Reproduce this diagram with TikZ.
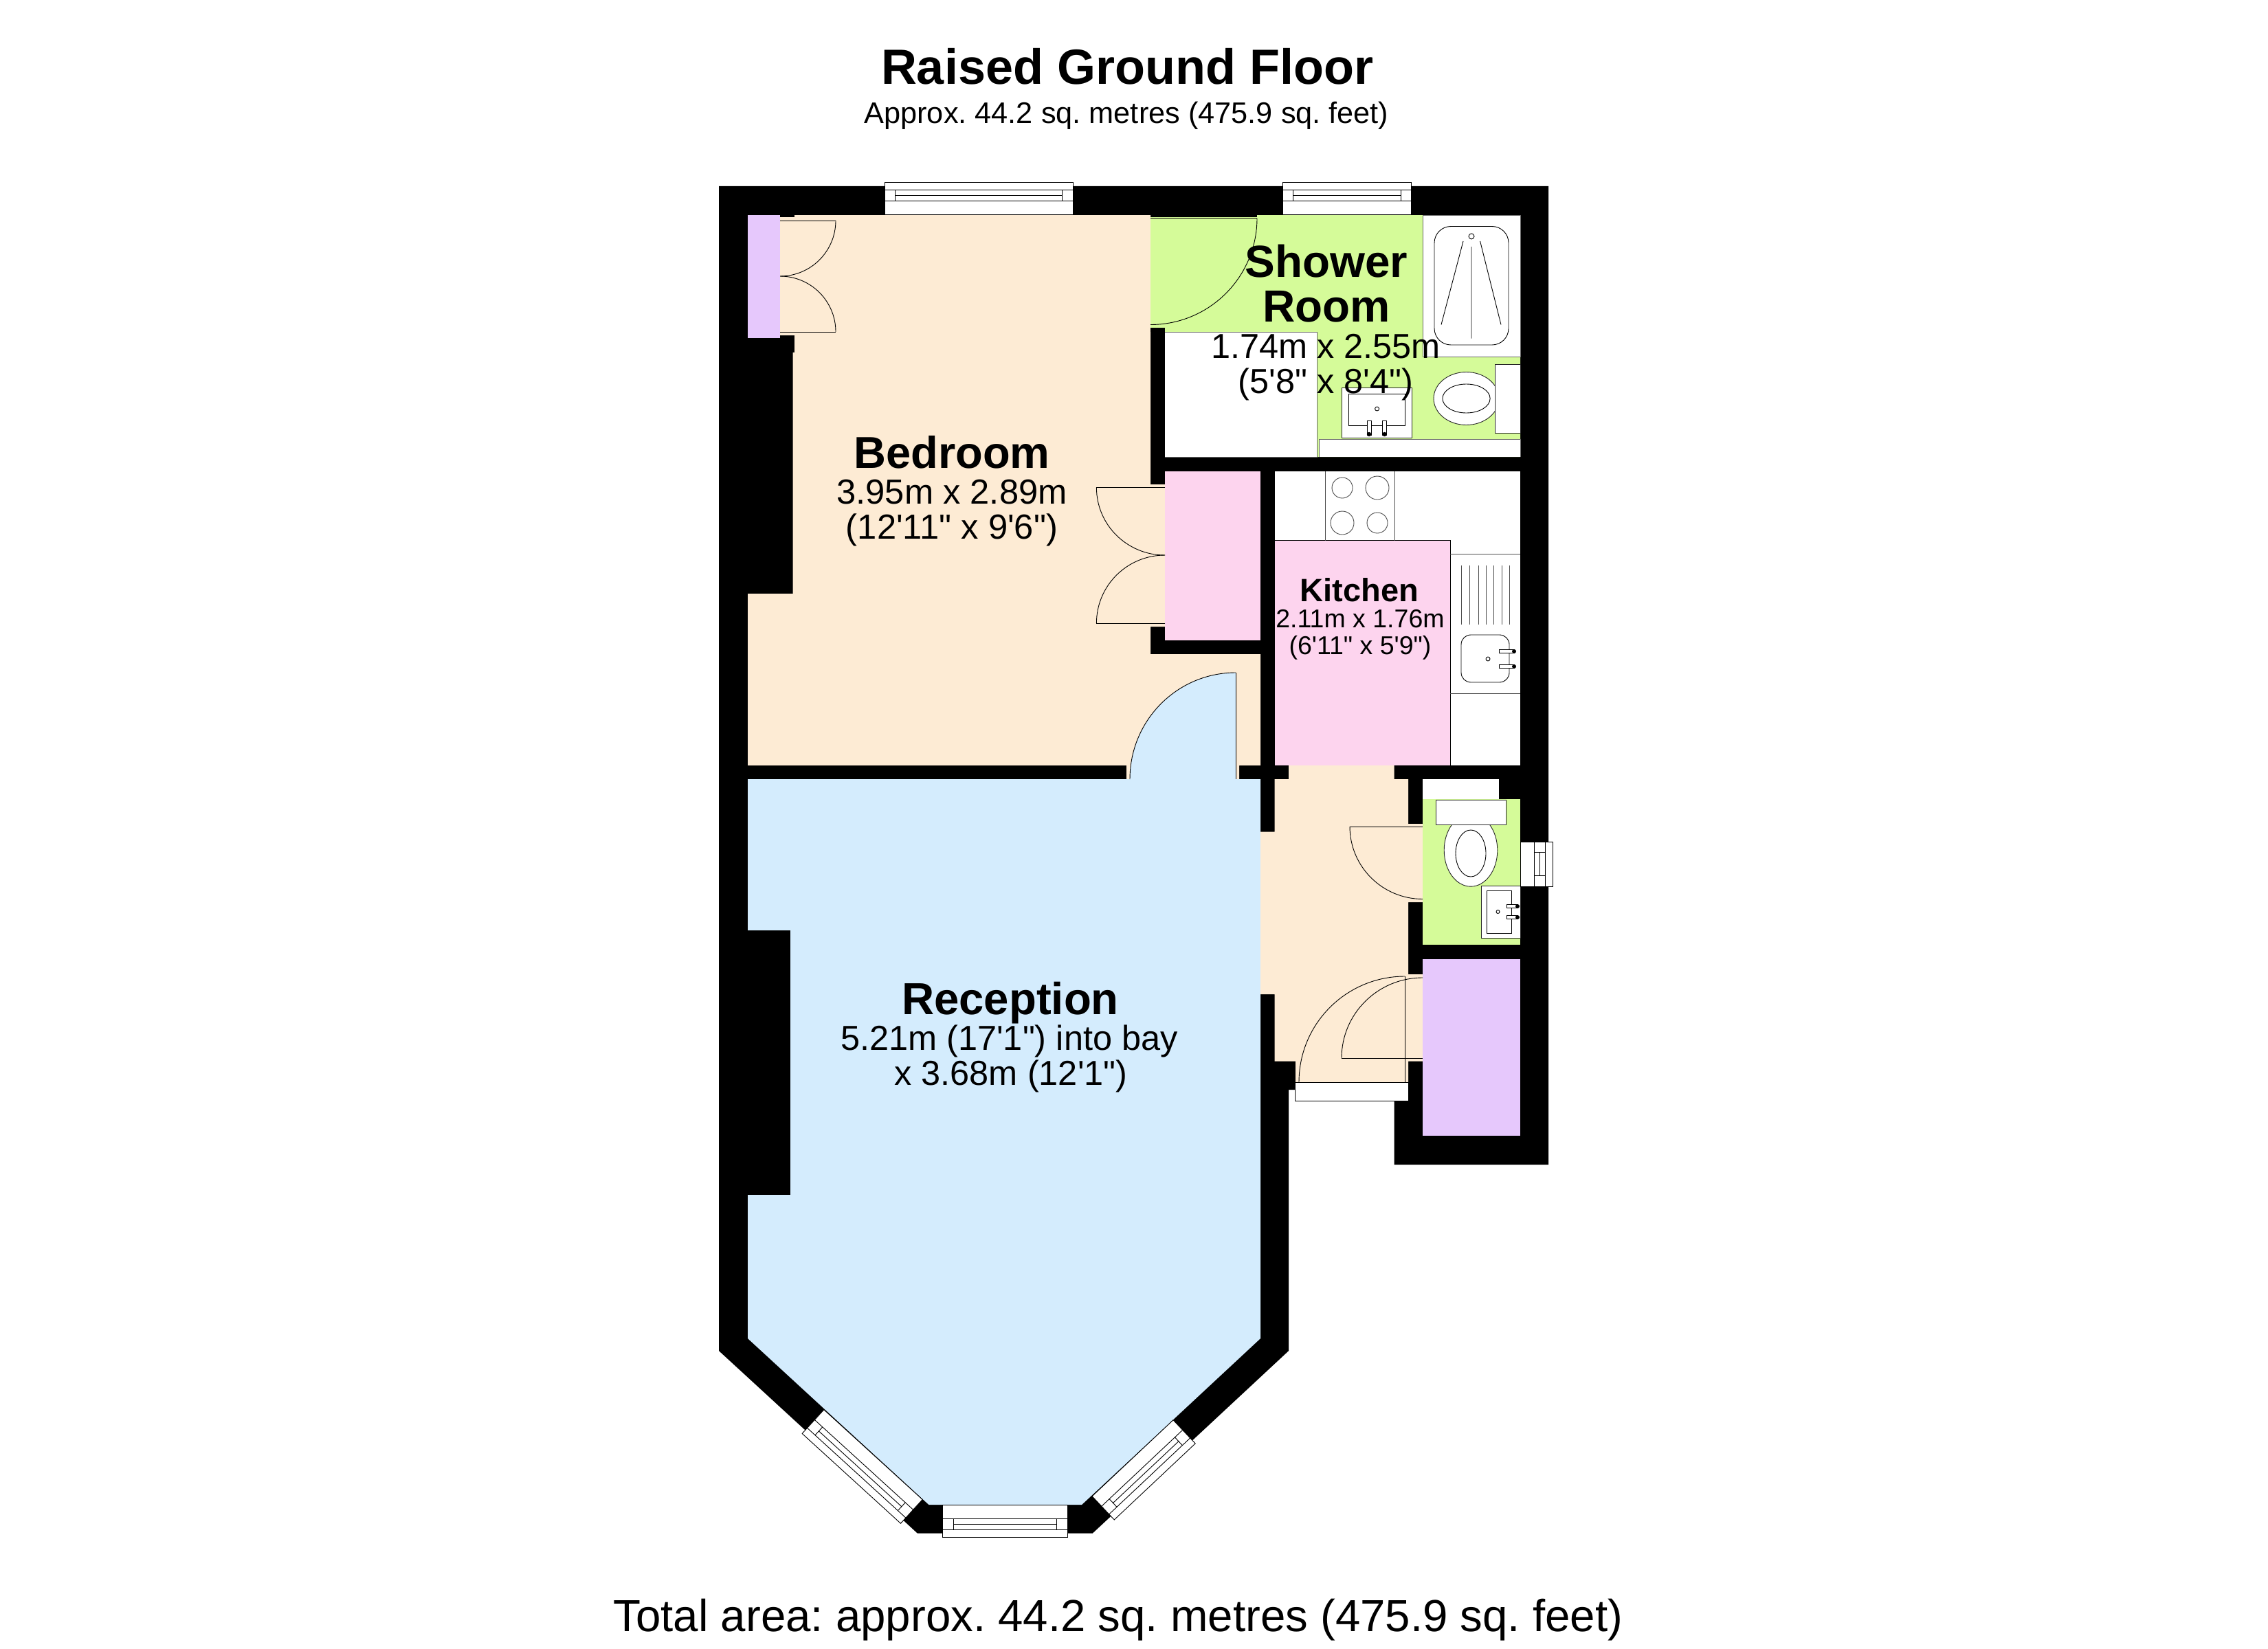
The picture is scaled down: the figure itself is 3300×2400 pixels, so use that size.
\documentclass[tikz,border=0pt]{standalone}
\usepackage{fontspec}
\usetikzlibrary{calc}
\newfontfamily\lsans{Liberation Sans}
\frenchspacing
\definecolor{beigeroom}{RGB}{253,235,212}
\definecolor{blueroom}{RGB}{212,236,253}
\definecolor{greenroom}{RGB}{213,251,153}
\definecolor{pinkroom}{RGB}{253,212,238}
\definecolor{purpleroom}{RGB}{230,200,252}
\tikzset{
  fine/.style={draw=black,line width=0.9pt},
  fixture/.style={draw=black!85,line width=0.9pt,fill=white},
  txt/.style={inner sep=0pt,anchor=base,font=\lsans},
}
\newcommand\qarc[3]{\draw[fine] (#1) .. controls ($(#1)!0.5523!(#2)$) and ($(#3)!0.5523!(#2)$) .. (#3);}
% window in local coordinates: x along the wall, y outward
\newcommand\glazing[1]{%
  \fill[white] (0,0) -- (#1,0) -- (#1,47) -- (0,47) -- cycle;
  \draw[fine] (0,0) -- (#1,0) -- (#1,47) -- (0,47) -- cycle;
  \draw[fine] (0,20) -- (#1,20) (0,36) -- (#1,36);
  \draw[fine] (15.5,20) -- (15.5,36) (#1-15.5,20) -- (#1-15.5,36) (15.5,28) -- (#1-15.5,28);
}
\newcommand\tapv[2]{% vertical tap, end pointing down
  \draw[fine,fill=white] (#1-3,#2) rectangle (#1+3,#2+21);
  \fill[black] (#1,#2+20) circle[radius=3.2pt];}
\newcommand\taph[3]{% horizontal tap
  \draw[fine,fill=white] (#1,#3-2.5) rectangle (#2,#3+2.5);
  \fill[black] (#2,#3) circle[radius=3pt];}
\begin{document}
\begin{tikzpicture}[x=1pt,y=-1pt]
\useasboundingbox (0,0) rectangle (3300,2400);
\fill[white] (0,0) rectangle (3300,2400);

% masonry
\fill[black] (1046,271) -- (2253,271) -- (2253,1695) -- (2028.6,1695) -- (2028.6,1602) -- (1885,1602) -- (1885,1586) -- (1875,1586) -- (1875,1966) -- (1589.6,2231.7) -- (1335,2231.7) -- (1046,1966) -- cycle;

% bedroom
\fill[beigeroom] (1135,316) -- (1156,316) -- (1156,313) -- (1674,313) -- (1674,705) -- (1695,705) -- (1695,912) -- (1674,912) -- (1674,952) -- (1834,952) -- (1834,1114) -- (1803,1114) -- (1803,1134) -- (1639,1134) -- (1639,1114) -- (1088,1114) -- (1088,864) -- (1153.6,864) -- (1153.6,513) -- (1156,513) -- (1156,488) -- (1135,488) -- cycle;
\fill[purpleroom] (1088,313) rectangle (1135,492);
\fill[pinkroom] (1695,685.5) rectangle (1834,932);

% reception
\fill[blueroom] (1088,1134) -- (1834,1134) -- (1834,1948) -- (1574,2190) -- (1351.4,2190) -- (1198.8,2050) -- (1088,1948) -- (1088,1739) -- (1150,1739) -- (1150,1354) -- (1088,1354) -- cycle;
\fill[blueroom] (1644,1134) .. controls (1644,1049) and (1713,979) .. (1798,979) -- (1798,1134) -- cycle;

% shower room
\fill[greenroom] (1674,316) -- (1829,316) -- (1829,313) -- (2212,313) -- (2212,665) -- (1916,665) -- (1916,483) -- (1695,483) -- (1695,477) -- (1674,477) -- cycle;
\draw[fine,fill=white,draw=black!60] (1695,483) -- (1916,483) -- (1916,665) -- (1695,665);
\fill[black] (1674,477) rectangle (1695,483);
\draw[fill=white,draw=black!60,line width=0.9pt] (2070,313) -- (2070,519.6) -- (2212,519.6) -- (2212,313) -- cycle;
\draw[fill=white,draw=black!60,line width=0.9pt] (1919,665) -- (1919,639) -- (2212,639) -- (2212,665);
\draw[fine,rounded corners=24pt] (2087,329.5) rectangle (2195,502);
\draw[fine] (2141,344) circle[radius=4pt];
\draw[fine] (2129,351) -- (2097,472.5) (2153.6,351) -- (2184,472.5) (2141,359) -- (2141,492.6);
\draw[fixture] (2133.5,580) ellipse[x radius=47.5pt,y radius=38.5pt];
\draw[fine] (2133.5,580) ellipse[x radius=34.6pt,y radius=21pt];
\draw[fixture] (2175,530) rectangle (2212,630);
\draw[fixture] (1952.7,564) rectangle (2054,637);
\draw[fine] (1962.5,573.5) rectangle (2044,619.5);
\draw[fine] (2003.6,595) circle[radius=3pt];
\tapv{1992}{612}
\tapv{2014.5}{612}

% kitchen
\fill[white] (1854.5,685.5) rectangle (2212,1114);
\fill[pinkroom] (1854.5,786.5) rectangle (2110,1114);
\draw[fine] (1854.5,786.5) -- (2110,786.5) -- (2110,1114);
\draw[fine,draw=black!70] (1928,685.5) -- (1928,786.5) (2029.5,685.5) -- (2029.5,786.5);
\draw[fine,draw=black!70] (1953,710) circle[radius=15pt] (2004,710) circle[radius=17pt] (1953,761) circle[radius=17pt] (2004,761) circle[radius=15pt];
\draw[fine,draw=black!70] (2110,806.6) -- (2212,806.6) (2110,1009) -- (2212,1009);
\foreach \gx in {2126,2138.4,2151,2162.5,2173.7,2185,2196}{\draw[fine,draw=black!70] (\gx,823) -- (\gx,909);}
\draw[fine,rounded corners=14pt] (2126,924) rectangle (2196,993);
\draw[fine] (2165,959) circle[radius=3pt];
\taph{2181}{2203}{948}
\taph{2181}{2203}{970}

% hall
\fill[beigeroom] (1875,1114) -- (2028.6,1114) -- (2028.6,1134) -- (2049,1134) -- (2049,1199) -- (2070,1199) -- (2070,1313) -- (2049,1313) -- (2049,1418) -- (2070,1418) -- (2070,1544.6) -- (2049,1544.6) -- (2049,1575) -- (1885,1575) -- (1885,1544.6) -- (1854.5,1544.6) -- (1854.5,1447) -- (1834,1447) -- (1834,1210.7) -- (1854.5,1210.7) -- (1854.5,1134) -- (1875,1134) -- cycle;
\draw[fine,fill=white] (1884,1575) rectangle (2049,1602);

% WC
\fill[white] (2070,1134) rectangle (2181,1162.5);
\fill[greenroom] (2070,1162.5) rectangle (2212,1375);
\draw[fixture] (2140,1237.5) ellipse[x radius=38.8pt,y radius=52.7pt];
\draw[fine] (2140,1242) ellipse[x radius=22pt,y radius=34pt];
\draw[fixture] (2089,1164) rectangle (2191,1200);
\draw[fixture] (2155,1289) rectangle (2212,1365);
\draw[fine] (2163,1296.4) rectangle (2199,1358);
\draw[fine] (2179.5,1327) circle[radius=2.5pt];
\taph{2192}{2208}{1319}
\taph{2192}{2208}{1335}
\fill[purpleroom] (2070,1396) rectangle (2212,1653);

% door leaves
\draw[fine] (1135,321) -- (1216,321) (1135,483) -- (1216,483);
\qarc{1216,321}{1216,402}{1135,402}
\qarc{1216,483}{1216,402}{1135,402}
\draw[fine] (1674,317.5) -- (1829,317.5);
\qarc{1829,317.5}{1829,472.5}{1674,472.5}
\draw[fine] (1695,709.6) -- (1595.4,709.6) (1695,907) -- (1595.4,907);
\qarc{1595.4,709.6}{1595.4,808}{1695,808}
\qarc{1595.4,907}{1595.4,808}{1695,808}
\qarc{1644,1134}{1644,979}{1798,979}
\draw[fine] (1798,979) -- (1798,1134);
\draw[fine] (2070,1203) -- (1964,1203);
\qarc{1964,1203}{1964,1308.5}{2070,1308.5}
\qarc{1890,1575}{1890,1421}{2044,1421}
\draw[fine] (2044,1421) -- (2044,1575);
\qarc{2070,1423}{1952,1423}{1952,1540}
\draw[fine] (1952,1540) -- (2070,1540);

% windows
\begin{scope}[shift={(1287,312.5)},x={(1pt,0pt)},y={(0pt,1pt)}]\glazing{274}\end{scope}
\begin{scope}[shift={(1866,312.5)},x={(1pt,0pt)},y={(0pt,1pt)}]\glazing{187.6}\end{scope}
\begin{scope}[shift={(2212,1225)},x={(0pt,-1pt)},y={(1pt,0pt)}]\glazing{65}\end{scope}
\begin{scope}[shift={(1371.5,2190.7)},x={(1pt,0pt)},y={(0pt,-1pt)}]\glazing{181.5}\end{scope}
\begin{scope}[shift={(1198.8,2051.7)},x={(0.739pt,-0.674pt)},y={(-0.674pt,-0.739pt)}]\glazing{194}\end{scope}
\begin{scope}[shift={(1707,2066.7)},x={(-0.728pt,-0.685pt)},y={(0.685pt,-0.728pt)}]\glazing{162}\end{scope}

% texts
\node[txt,font=\lsans\bfseries\fontsize{72}{80}\selectfont] (title) at (1640,123) {Raised Ground Floor};
\node[txt,font=\lsans\fontsize{43.3}{50}\selectfont] (subtitle) at (1639,180) {Approx. 44.2 sq. metres (475.9 sq. feet)};
\node[txt,font=\lsans\fontsize{65.4}{72}\selectfont] (footer) at (1627,2374) {Total area: approx. 44.2 sq. metres (475.9 sq. feet)};

\node[txt,font=\lsans\bfseries\fontsize{65}{70}\selectfont] (bedname) at (1385,681) {Bedroom};
\node[txt,font=\lsans\fontsize{50.7}{56}\selectfont] (beddim) at (1385,733.7) {3.95m x 2.89m};
\node[txt,font=\lsans\fontsize{50.7}{56}\selectfont] (beddimft) at (1385,784) {(12'11" x 9'6")};

\node[txt,font=\lsans\bfseries\fontsize{65.5}{70}\selectfont] (showername) at (1930,403.6) {Shower};
\node[txt,font=\lsans\bfseries\fontsize{65.5}{70}\selectfont] (roomname) at (1930,468.5) {Room};
\node[txt,font=\lsans\fontsize{50.5}{56}\selectfont] (showerdim) at (1929,521) {1.74m x 2.55m};
\node[txt,font=\lsans\fontsize{50.5}{56}\selectfont] (showerdimft) at (1929,572) {(5'8" x 8'4")};

\node[txt,font=\lsans\bfseries\fontsize{47}{52}\selectfont] (kitname) at (1978,875.5) {Kitchen};
\node[txt,font=\lsans\fontsize{37.5}{44}\selectfont] (kitdim) at (1979,913) {2.11m x 1.76m};
\node[txt,font=\lsans\fontsize{37.5}{44}\selectfont] (kitdimft) at (1979,952) {(6'11" x 5'9")};

\node[txt,font=\lsans\bfseries\fontsize{65.3}{70}\selectfont] (recname) at (1470,1476) {Reception};
\node[txt,font=\lsans\fontsize{50.5}{56}\selectfont] (recdim) at (1468.4,1528.3) {5.21m (17'1") into bay};
\node[txt,font=\lsans\fontsize{50.5}{56}\selectfont] (recdimb) at (1471,1579) {x 3.68m (12'1")};
\end{tikzpicture}
\end{document}
